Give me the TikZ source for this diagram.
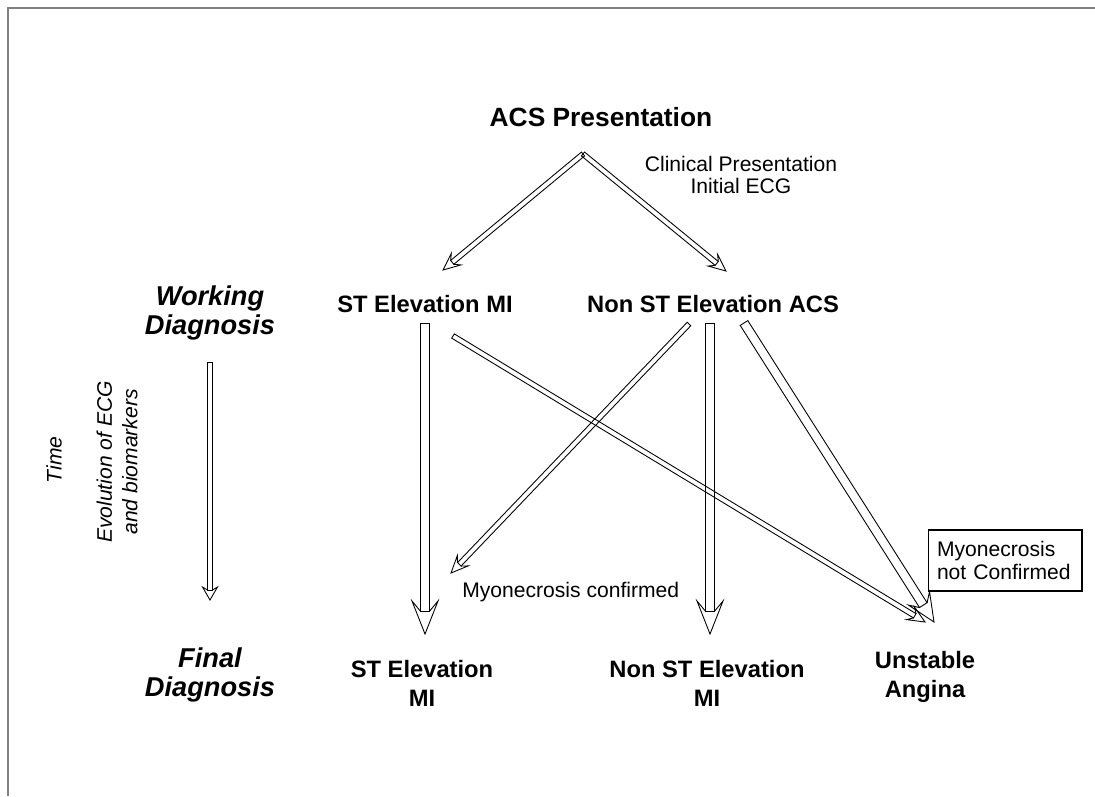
\documentclass[tikz,border=0pt]{standalone}
\usepackage{fontspec}
\setmainfont{Liberation Sans}
\usetikzlibrary{calc}
% block arrow: #1 from, #2 to, #3 half shaft width, #4 half head width, #5 head length (wings), #6 shaft join length
\newcommand{\blockarrow}[6]{%
  \coordinate (bw) at ($(#2)!#5!(#1)$);
  \coordinate (bj) at ($(#2)!#6!(#1)$);
  \draw[arrline] ($(#1)!#3!90:(#2)$) -- ($(bj)!#3!90:(#2)$) -- ($(bj)!#3!-90:(#2)$) -- ($(#1)!#3!-90:(#2)$) -- cycle;
  \draw[arrline] ($(bj)!#3!90:(#2)$) -- ($(bw)!#4!90:(#2)$) -- (#2) -- ($(bw)!#4!-90:(#2)$) -- ($(bj)!#3!-90:(#2)$);
}
\newcommand{\thinarrow}[2]{\blockarrow{#1}{#2}{0.05cm}{0.15cm}{0.34cm}{0.24cm}}
\newcommand{\widearrow}[2]{\blockarrow{#1}{#2}{0.094cm}{0.26cm}{0.66cm}{0.46cm}}
\newcommand{\medarrow}[2]{\blockarrow{#1}{#2}{0.09cm}{0.25cm}{0.56cm}{0.40cm}}
\newcommand{\timearrow}[2]{\blockarrow{#1}{#2}{0.05cm}{0.15cm}{0.26cm}{0.20cm}}
\begin{document}
\begin{tikzpicture}[x=0.02cm, y=-0.02cm,
  arrline/.style={draw=black, line width=0.5pt, line join=miter},
  lbl/.style={inner sep=0pt, font=\fontsize{13.5}{16.5}\selectfont\bfseries, align=center},
  side/.style={inner sep=0pt, font=\fontsize{15.5}{17}\selectfont\bfseries\itshape, align=center},
  small/.style={inner sep=0pt, font=\fontsize{12}{13}\selectfont},
  frame/.style={draw=gray, line width=0.6pt}]
\useasboundingbox (0,0) rectangle (1095,796);
\draw[frame] (8,796) -- (8,8) -- (1095,8);

% texts
\node[lbl, font=\fontsize{15}{18}\selectfont\bfseries] (acs) at (601,117) {ACS Presentation};
\node[small, align=center] (clin) at (741,175) {Clinical Presentation\\Initial ECG};
\node[lbl] (stemiW) at (425,304) {ST Elevation MI};
\node[lbl] (nsteW) at (713,304) {Non ST Elevation ACS};
\node[side] (work) at (210,313) {Working\\Diagnosis};
\node[side] (final) at (210,675) {Final\\Diagnosis};
\node[lbl] (stemiF) at (422,683) {ST Elevation\\MI};
\node[lbl] (nstemiF) at (707,683) {Non ST Elevation\\MI};
\node[lbl] (ua) at (925,677) {Unstable\\Angina};
\node[small, anchor=west] (myoc) at (462,592) {Myonecrosis confirmed};
\node[small, draw, line width=0.6pt, align=left, text width=2.72cm, inner xsep=0.18cm,
      minimum height=1.22cm, font=\fontsize{12}{13.5}\selectfont] (myonc) at (1005,560.5) {Myonecrosis\\not Confirmed};
\node[small, rotate=90, font=\fontsize{12}{13}\selectfont\itshape] (time) at (54,460) {Time};
\node[small, rotate=90, align=center, font=\fontsize{12}{14.5}\selectfont\itshape] (evo) at (117,462) {Evolution of ECG\\and biomarkers};

% arrow end points
\coordinate (apex) at (583,154);
\coordinate (t1) at (443,270);
\coordinate (t2) at (726,271);
\coordinate (s3) at (425,323);
\coordinate (t3) at (425,634);
\coordinate (s4) at (453,336);
\coordinate (t4) at (925,622);
\coordinate (s5) at (689,324);
\coordinate (t5) at (451,573);
\coordinate (s6) at (710,323);
\coordinate (t6) at (710,634);
\coordinate (s7) at (744,323);
\coordinate (t7) at (934,622);
\coordinate (ts) at (210,362);
\coordinate (te) at (210,600);

% arrows
\thinarrow{apex}{t1}
\thinarrow{apex}{t2}
\widearrow{s3}{t3}
\thinarrow{s4}{t4}
\thinarrow{s5}{t5}
\widearrow{s6}{t6}
\medarrow{s7}{t7}
\timearrow{ts}{te}
\end{tikzpicture}
\end{document}
